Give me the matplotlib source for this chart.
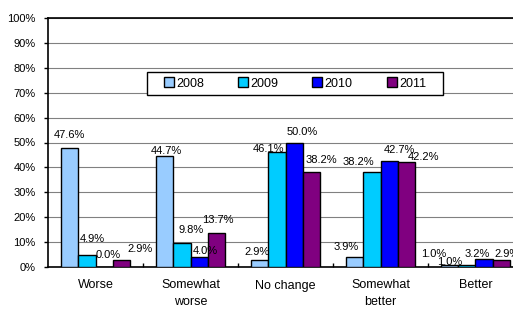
import matplotlib
matplotlib.use("Agg")
import matplotlib.pyplot as plt
import numpy as np
from matplotlib.ticker import FuncFormatter, FixedLocator
from matplotlib.patches import Rectangle

categories = ["Worse", "Somewhat\nworse", "No change", "Somewhat\nbetter", "Better"]
years = ["2008", "2009", "2010", "2011"]
v2008 = [47.6, 44.7, 2.9, 3.9, 1.0]
v2009 = [4.9, 9.8, 46.1, 38.2, 1.0]
v2010 = [0.0, 4.0, 50.0, 42.7, 3.2]
v2011 = [2.9, 13.7, 38.2, 42.2, 2.9]
series = [v2008, v2009, v2010, v2011]
colors = ["#99CCFF", "#00CCFF", "#0000FF", "#800080"]

# label nudges (pixels) mimicking the original label placement
label_dx = [[0, 2, -2, -8, -16],
            [6, 9, -8, -13, -17],
            [4, 6, 8, 10, -7],
            [18, 1, 10, 17, 5]]
label_gap = [[10, 2, 5, 7, 8],
             [13, 10, 0, 7, 0],
             [9, 3, 7, 8, 2],
             [8, 10, 9, 2, 3]]

plt.rcParams['font.family'] = ['Liberation Sans', 'DejaVu Sans']

fig = plt.figure(figsize=(5.13, 3.09), dpi=100)
ax = fig.add_axes([48/513, 1 - 267/309, 475/513, 249/309])

x = np.arange(len(categories))
w = 0.184
for i, (vals, c, yr) in enumerate(zip(series, colors, years)):
    pos = x + (i - 1.5) * w
    ax.bar(pos, vals, width=w, color=c, edgecolor="black", linewidth=1.0,
           label=yr, zorder=3)
    for j, (xp, v) in enumerate(zip(pos, vals)):
        ax.annotate(f"{v:.1f}%", (xp, v), xytext=(label_dx[i][j], label_gap[i][j] - 2),
                    textcoords="offset pixels", ha="center", va="bottom",
                    fontsize=8, zorder=4)

ax.set_xlim(-0.5, len(categories) - 0.5)
ax.set_ylim(0, 100)
ax.set_yticks(np.arange(0, 101, 10))
ax.yaxis.set_major_formatter(FuncFormatter(lambda v, p: f"{int(v)}%"))
ax.grid(axis="y", color="#808080", linewidth=0.8, zorder=0)
ax.set_axisbelow(True)

ax.set_xticks(x)
ax.set_xticklabels(categories, fontsize=9, linespacing=1.5)
ax.xaxis.set_minor_locator(FixedLocator(np.arange(0.5, len(categories) - 0.5, 1)))
ax.tick_params(axis="x", which="major", length=0, pad=9)
ax.tick_params(axis="x", which="minor", direction="in", length=3, width=1)
ax.tick_params(axis="y", direction="out", length=3, width=1, pad=6, labelsize=8)

for s in ax.spines.values():
    s.set_color("black")
    s.set_linewidth(1.2)

leg = ax.legend(loc="center", bbox_to_anchor=(0.52, 0.737), ncol=4, frameon=False,
                fontsize=9, handlelength=0.8, handleheight=0.8, handletextpad=0.2,
                columnspacing=2.7, borderpad=0.4)
leg.set_zorder(6)
for h in leg.legend_handles:
    h.set_linewidth(1.0)

fig.canvas.draw()
bb = leg.get_window_extent()
padx, pady = 17, 5
frame = Rectangle((bb.x0 - padx + 5, bb.y0 + 5 - pady), bb.width + 2 * padx - 10,
                  bb.height + 2 * pady - 10, transform=None, facecolor="white",
                  edgecolor="black", linewidth=1.0, zorder=5.5, clip_on=False)
ax.add_artist(frame)

fig.savefig("out.png", dpi=100)
